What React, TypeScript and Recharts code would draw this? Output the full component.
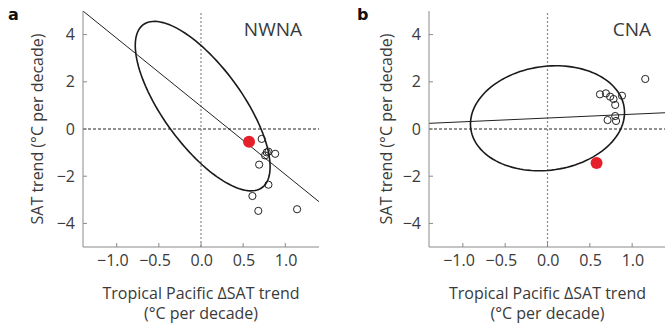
import {
  ScatterChart,
  Scatter,
  XAxis,
  YAxis,
  ReferenceLine,
} from "recharts";

// panel a (NWNA)
const modelsA = [
  { x: 0.72, y: -0.42 },
  { x: 0.78, y: -0.99 },
  { x: 0.8, y: -0.96 },
  { x: 0.76, y: -1.12 },
  { x: 0.88, y: -1.05 },
  { x: 0.69, y: -1.51 },
  { x: 0.8, y: -2.36 },
  { x: 0.61, y: -2.84 },
  { x: 0.68, y: -3.47 },
  { x: 1.14, y: -3.4 },
];
const obsA = [{ x: 0.57, y: -0.54 }];
const fitA = [
  { x: -1.4, y: 5.0 },
  { x: 1.4, y: -3.08 },
];
// centre x, centre y, half-width x, half-height y, correlation
const ellipseA = [0.02, 0.97, 0.8, 3.59, -0.716];

// panel b (CNA)
const modelsB = [
  { x: 1.155, y: 2.12 },
  { x: 0.62, y: 1.47 },
  { x: 0.69, y: 1.51 },
  { x: 0.74, y: 1.37 },
  { x: 0.78, y: 1.27 },
  { x: 0.8, y: 1.02 },
  { x: 0.88, y: 1.41 },
  { x: 0.71, y: 0.38 },
  { x: 0.8, y: 0.55 },
  { x: 0.81, y: 0.34 },
];
const obsB = [{ x: 0.58, y: -1.44 }];
const fitB = [
  { x: -1.4, y: 0.24 },
  { x: 1.4, y: 0.69 },
];
const ellipseB = [0.0, 0.455, 0.91, 2.225, 0.11];

const xTicks = [-1, -0.5, 0, 0.5, 1];
const yTicks = [-4, -2, 0, 2, 4];
const xDomain = [-1.4, 1.4];
const yDomain = [-5, 5];

const INK = "#3a3a3a";
const AXIS = "#8a8a8a";
const RED = "#e5202a";
const FONT = "'Open Sans', sans-serif";
const FS = 16;

function ellipsePoints(p: number[]) {
  const [cx, cy, rx, ry, r] = p;
  const phi = Math.acos(r);
  const pts = [];
  for (let i = 0; i <= 120; i++) {
    const t = (i / 120) * Math.PI * 2;
    pts.push({ x: cx + rx * Math.cos(t), y: cy + ry * Math.cos(t + phi) });
  }
  return pts;
}

const fmtX = (v: number) => (v < 0 ? "\u2212" : "") + Math.abs(v).toFixed(1);
const fmtY = (v: number) => (v < 0 ? "\u2212" : "") + Math.abs(v);

// eslint-disable-next-line @typescript-eslint/no-explicit-any
function XTick({ x, y, payload }: any) {
  return (
    <text x={x + 12} y={y} dy="0.71em" textAnchor="end" fill={INK} fontSize={FS} fontFamily={FONT}>
      {fmtX(payload.value)}
    </text>
  );
}

// eslint-disable-next-line @typescript-eslint/no-explicit-any
function XTitle({ viewBox }: any) {
  const cx = viewBox.x + viewBox.width / 2;
  return (
    <g fill={INK} fontSize={FS} fontFamily={FONT} textAnchor="middle">
      <text x={cx} y={viewBox.y + 52}>Tropical Pacific ΔSAT trend</text>
      <text x={cx} y={viewBox.y + 72}>(°C per decade)</text>
    </g>
  );
}

function makeYTitle(gap: number) {
  // eslint-disable-next-line @typescript-eslint/no-explicit-any
  return function YTitle({ viewBox }: any) {
    const cx = viewBox.x + viewBox.width - gap;
    const cy = viewBox.y + viewBox.height / 2;
    return (
      <text
        x={cx}
        y={cy}
        transform={`rotate(-90 ${cx} ${cy})`}
        textAnchor="middle"
        dominantBaseline="central"
        fill={INK}
        fontSize={FS}
        fontFamily={FONT}
      >
        SAT trend (°C per decade)
      </text>
    );
  };
}

// eslint-disable-next-line @typescript-eslint/no-explicit-any
const openDot = (p: any) => (
  <circle cx={p.cx} cy={p.cy} r={3.6} fill="none" stroke="#222" strokeWidth={1} />
);
// eslint-disable-next-line @typescript-eslint/no-explicit-any
const redDot = (p: any) => <circle cx={p.cx} cy={p.cy} r={6} fill={RED} />;
const noDot = () => <g />;

interface PanelProps {
  width: number;
  yAxisWidth: number;
  rightMargin: number;
  titleGap: number;
  models: { x: number; y: number }[];
  obs: { x: number; y: number }[];
  fit: { x: number; y: number }[];
  ellipse: number[];
}

function Panel({ width, yAxisWidth, rightMargin, titleGap, models, obs, fit, ellipse }: PanelProps) {
  const YTitle = makeYTitle(titleGap);
  return (
    <ScatterChart
      width={width}
      height={329}
      margin={{ top: 11, right: rightMargin, bottom: 52, left: 0 }}
    >
      <XAxis
        type="number"
        dataKey="x"
        domain={xDomain}
        ticks={xTicks}
        allowDataOverflow
        tick={<XTick />}
        tickSize={-4}
        tickMargin={12}
        tickLine={{ stroke: AXIS }}
        axisLine={{ stroke: AXIS }}
        height={30}
        label={<XTitle />}
      />
      <XAxis
        xAxisId="top"
        orientation="top"
        type="number"
        domain={xDomain}
        height={0}
        tick={false}
        tickLine={false}
        axisLine={{ stroke: "#111" }}
      />
      <YAxis
        type="number"
        dataKey="y"
        domain={yDomain}
        ticks={yTicks}
        allowDataOverflow
        tickFormatter={fmtY}
        tick={{ fill: INK, fontSize: FS, fontFamily: FONT }}
        tickSize={-4}
        tickMargin={12}
        tickLine={{ stroke: AXIS }}
        axisLine={{ stroke: AXIS }}
        width={yAxisWidth}
        label={<YTitle />}
      />
      <YAxis
        yAxisId="right"
        orientation="right"
        type="number"
        domain={yDomain}
        width={0}
        tick={false}
        tickLine={false}
        axisLine={{ stroke: AXIS }}
      />
      <ReferenceLine y={0} stroke="#222" strokeDasharray="3 2" strokeWidth={1} />
      <ReferenceLine x={0} stroke="#888" strokeDasharray="2 2" strokeWidth={1.2} />
      <ReferenceLine segment={fit} stroke="#222" strokeWidth={1} ifOverflow="hidden" />
      <Scatter
        data={ellipsePoints(ellipse)}
        line={{ stroke: "#1a1a1a", strokeWidth: 1.6 }}
        shape={noDot}
        isAnimationActive={false}
      />
      <Scatter data={models} shape={openDot} isAnimationActive={false} />
      <Scatter data={obs} shape={redDot} isAnimationActive={false} />
    </ScatterChart>
  );
}

const tag: React.CSSProperties = {
  position: "absolute",
  fontFamily: "'DejaVu Sans', sans-serif",
  fontWeight: "bold",
  fontSize: 16,
  lineHeight: "16px",
  color: "#111",
};
const region: React.CSSProperties = {
  position: "absolute",
  fontFamily: FONT,
  fontSize: 19,
  lineHeight: "19px",
  color: INK,
};

export default function App() {
  return (
    <div
      style={{
        position: "absolute",
        left: 0,
        top: 0,
        width: 665,
        height: 329,
        background: "#fff",
        overflow: "hidden",
      }}
    >
      <div style={{ position: "absolute", left: 0, top: 0 }}>
        <Panel
          width={330}
          yAxisWidth={83}
          rightMargin={11}
          titleGap={46}
          models={modelsA}
          obs={obsA}
          fit={fitA}
          ellipse={ellipseA}
        />
      </div>
      <div style={{ position: "absolute", left: 330, top: 0 }}>
        <Panel
          width={336}
          yAxisWidth={99}
          rightMargin={0}
          titleGap={43}
          models={modelsB}
          obs={obsB}
          fit={fitB}
          ellipse={ellipseB}
        />
      </div>
      <span style={{ ...tag, left: 8, top: 7 }}>a</span>
      <span style={{ ...tag, left: 357, top: 7 }}>b</span>
      <span style={{ ...region, right: 665 - 302, top: 20 }}>NWNA</span>
      <span style={{ ...region, right: 14, top: 20 }}>CNA</span>
    </div>
  );
}
